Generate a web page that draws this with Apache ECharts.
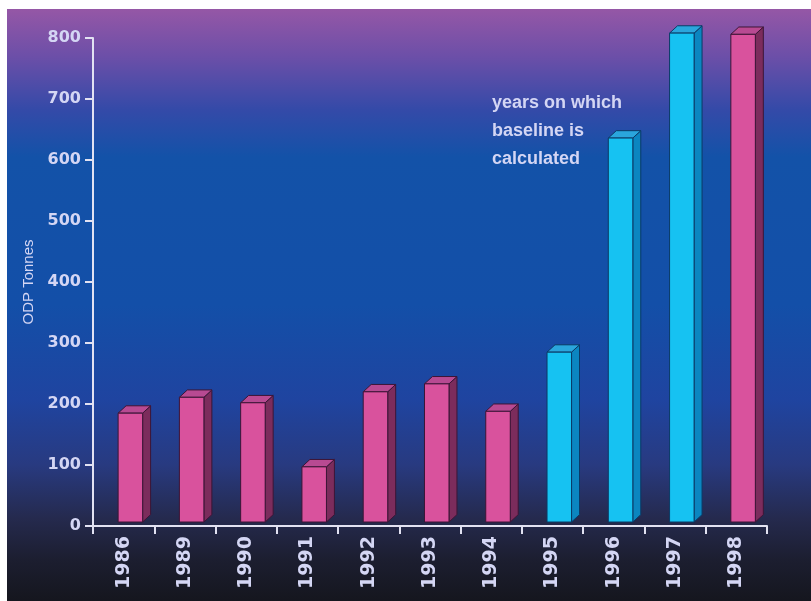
<!DOCTYPE html>
<html>
<head>
<meta charset="utf-8">
<title>ODP Tonnes by year</title>
<script src="https://cdn.jsdelivr.net/npm/echarts@6/dist/echarts.min.js"></script>
<style>
  html, body { margin: 0; padding: 0; background: #ffffff; }
  #chart { width: 811px; height: 601px; }
</style>
</head>
<body>
<div id="chart"></div>
<script>
// Consumption per year, ODP tonnes
const years = ['1986', '1989', '1990', '1991', '1992', '1993', '1994', '1995', '1996', '1997', '1998'];
const odpTonnes = [185, 211, 202, 97, 220, 233, 188, 285, 636, 808, 806];
// Years that make up the baseline average
const baselineYears = ['1995', '1996', '1997'];
const yTicks = [0, 100, 200, 300, 400, 500, 600, 700, 800];
const noteLines = ['years on which', 'baseline is', 'calculated'];

const pinkFaces = { front: '#d9529d', top: '#b84a92', side: '#7c2c5c', edge: '#3c1536' };
const cyanFaces = { front: '#16c2f2', top: '#2aa6dc', side: '#0b86c0', edge: '#0b3a66' };
const labelColor = '#d4d6f4';

const chart = echarts.init(document.getElementById('chart'), null, { renderer: 'canvas' });

// Draws one bar as a front face, right side and top, like an extruded block.
function renderBlock(params, api) {
  const idx = api.value(0);
  const val = api.value(1);
  const topPt = api.coord([idx, val]);
  const basePt = api.coord([idx, 0]);
  const band = api.size([1, 0])[0];
  const x0 = topPt[0] - band * 0.09;
  const x1 = topPt[0] + band * 0.31;
  const dx = band * 0.13;
  const dy = band * 0.12;
  const yt = topPt[1];
  const yb = basePt[1] - 4;
  const faces = baselineYears.indexOf(years[idx]) >= 0 ? cyanFaces : pinkFaces;
  return {
    type: 'group',
    children: [
      {
        type: 'polygon',
        shape: { points: [[x1, yt], [x1 + dx, yt - dy], [x1 + dx, yb - dy], [x1, yb]] },
        style: { fill: faces.side, stroke: faces.edge, lineWidth: 1 }
      },
      {
        type: 'polygon',
        shape: { points: [[x0, yt], [x0 + dx, yt - dy], [x1 + dx, yt - dy], [x1, yt]] },
        style: { fill: faces.top, stroke: faces.edge, lineWidth: 1 }
      },
      {
        type: 'rect',
        shape: { x: x0, y: yt, width: x1 - x0, height: yb - yt },
        style: { fill: faces.front, stroke: faces.edge, lineWidth: 1 }
      }
    ]
  };
}

const option = {
  backgroundColor: '#ffffff',
  animation: false,
  graphic: [
    {
      type: 'rect',
      z: -10,
      silent: true,
      shape: { x: 7, y: 9, width: 804, height: 592 },
      style: {
        fill: new echarts.graphic.LinearGradient(0, 0, 0, 1, [
          { offset: 0.00, color: '#9557a6' },
          { offset: 0.08, color: '#6c4fa8' },
          { offset: 0.17, color: '#344aa8' },
          { offset: 0.25, color: '#1352a8' },
          { offset: 0.50, color: '#134fa8' },
          { offset: 0.66, color: '#1f44a0' },
          { offset: 0.77, color: '#283a80' },
          { offset: 0.86, color: '#252a4e' },
          { offset: 0.93, color: '#1c1e30' },
          { offset: 1.00, color: '#15161e' }
        ])
      }
    },
    {
      type: 'text',
      left: 492,
      top: 89,
      z: 10,
      style: {
        text: noteLines.join('\n'),
        fill: labelColor,
        font: 'bold 18px "Liberation Sans", Arial, sans-serif',
        lineHeight: 28
      }
    }
  ],
  grid: { left: 93, right: 44, top: 38, bottom: 75 },
  xAxis: {
    type: 'category',
    data: years,
    boundaryGap: true,
    axisLine: { show: true, lineStyle: { color: '#e2e2f2', width: 2 } },
    axisTick: { show: true, length: 8, lineStyle: { color: '#e2e2f2', width: 2 } },
    axisLabel: {
      rotate: 90,
      margin: 10,
      color: labelColor,
      fontFamily: '"DejaVu Sans", sans-serif',
      fontWeight: 'bold',
      fontSize: 19
    },
    splitLine: { show: false }
  },
  yAxis: {
    type: 'value',
    min: yTicks[0],
    max: yTicks[yTicks.length - 1],
    interval: yTicks[1] - yTicks[0],
    name: 'ODP Tonnes',
    nameLocation: 'middle',
    nameGap: 53,
    nameTextStyle: {
      color: labelColor,
      fontFamily: '"Liberation Sans", Arial, sans-serif',
      fontSize: 15
    },
    axisLine: { show: true, lineStyle: { color: '#e2e2f2', width: 2 } },
    axisTick: { show: true, length: 8, lineStyle: { color: '#e2e2f2', width: 2 } },
    axisLabel: {
      margin: 12,
      color: labelColor,
      fontFamily: '"DejaVu Sans", sans-serif',
      fontWeight: 'bold',
      fontSize: 16
    },
    splitLine: { show: false }
  },
  series: [
    {
      type: 'custom',
      renderItem: renderBlock,
      clip: false,
      encode: { x: 0, y: 1 },
      data: odpTonnes.map((v, i) => [i, v])
    }
  ]
};

chart.setOption(option);
</script>
</body>
</html>
